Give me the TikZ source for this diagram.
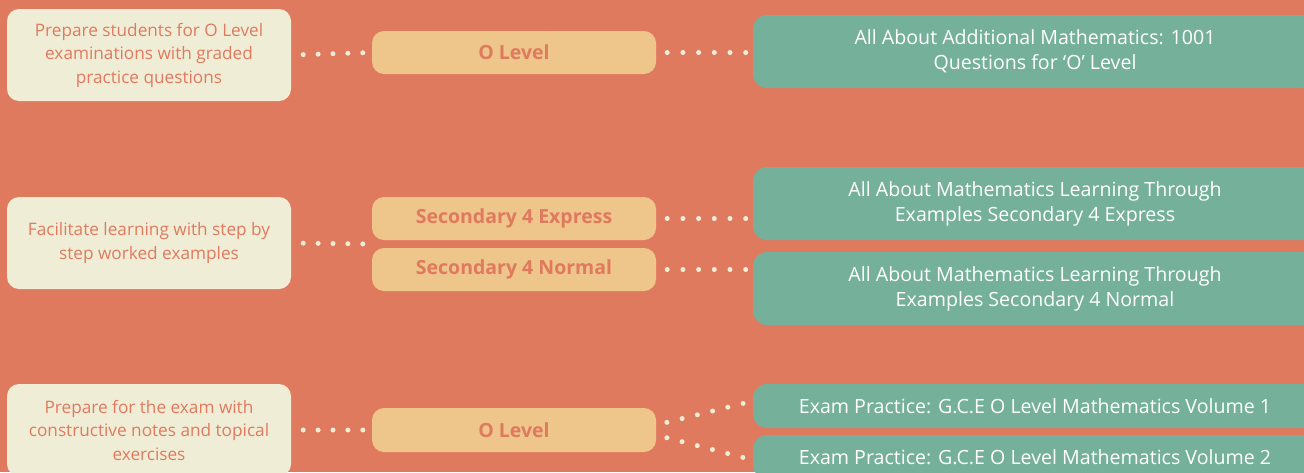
\documentclass[tikz,border=0pt]{standalone}
\usepackage{fontspec}
\setmainfont{Open Sans}
\usetikzlibrary{calc}
\definecolor{bg}{HTML}{E07A5F}
\definecolor{cream}{HTML}{F0EDD6}
\definecolor{tan}{HTML}{EEC58A}
\definecolor{sage}{HTML}{75B09A}
\begin{document}
\begin{tikzpicture}[x=1pt,y=-1pt,
  goalbox/.style={fill=cream, rounded corners=12pt, minimum width=284pt, minimum height=92pt, inner sep=0pt, align=center, text=bg, font=\fontsize{17.2}{23.5}\selectfont},
  levelbox/.style={fill=tan, rounded corners=12pt, minimum width=284pt, minimum height=43pt, inner sep=0pt, align=center, text=bg, font=\fontsize{19.5}{22}\selectfont\bfseries},
  bookbox/.style={fill=sage, rounded corners=14pt, minimum width=564pt, inner sep=0pt, align=center, text=white, font=\fontsize{19.6}{25}\selectfont},
  dots/.style={draw=cream, line width=5pt, line cap=round, dash pattern=on 0pt off #1},
  dots/.default=14.9pt]
\fill[bg] (0,0) rectangle (1304,472);
\useasboundingbox (0,0) rectangle (1304,472);
% left goals
\node[goalbox] (l1) at (149,55) {Prepare students for O Level\\examinations with graded\\practice questions};
\node[goalbox] (l2) at (149,243) {Facilitate learning with step by\\step worked examples};
\node[goalbox] (l3) at (149,430) {Prepare for the exam with\\constructive notes and topical\\exercises};
% levels
\node[levelbox] (m1) at (514,52.5) {O Level};
\node[levelbox] (m2a) at (514,218.5) {Secondary 4 Express};
\node[levelbox] (m2b) at (514,269.5) {Secondary 4 Normal};
\node[levelbox, minimum height=44pt] (m3) at (514,430) {O Level};
% books
\node[bookbox, minimum height=73pt] (r1) at (1035,51.5) {All About Additional Mathematics: 1001\\Questions for ‘O’ Level};
\node[bookbox, minimum height=73pt] (r2) at (1035,203.5) {All About Mathematics Learning Through\\Examples Secondary 4 Express};
\node[bookbox, minimum height=73pt] (r3) at (1035,288.5) {All About Mathematics Learning Through\\Examples Secondary 4 Normal};
\node[bookbox, minimum height=44pt] (r4) at (1035,406) {Exam Practice: G.C.E O Level Mathematics Volume 1};
\node[bookbox, minimum height=44pt] (r5) at (1035,457) {Exam Practice: G.C.E O Level Mathematics Volume 2};
\coordinate (j) at ($(m2a.south west)!0.5!(m2b.north west)$);
% connectors
\draw[dots, shorten <=12pt, shorten >=9pt] (l1.east) -- (m1.west);
\draw[dots, shorten <=12pt, shorten >=9pt] (l2.east) -- (j);
\draw[dots, shorten <=12pt, shorten >=9pt] (l3.east) -- (m3.west);
\draw[dots=15.7pt, shorten <=11pt, shorten >=7pt] (m1.east) -- (m1.east -| r1.west);
\draw[dots=15.7pt, shorten <=11pt, shorten >=7pt] (m2a.east) -- (m2a.east -| r2.west);
\draw[dots=15.7pt, shorten <=11pt, shorten >=7pt] (m2b.east) -- (m2b.east -| r3.west);
\draw[dots=15.7pt, shorten <=11pt, shorten >=8pt] ([yshift=5pt]m3.east) -- ([yshift=5pt]r4.west);
\draw[dots=15.7pt, shorten <=11pt, shorten >=8pt] ([yshift=-5pt]m3.east) -- ([yshift=-3pt]r5.west);
\end{tikzpicture}
\end{document}
